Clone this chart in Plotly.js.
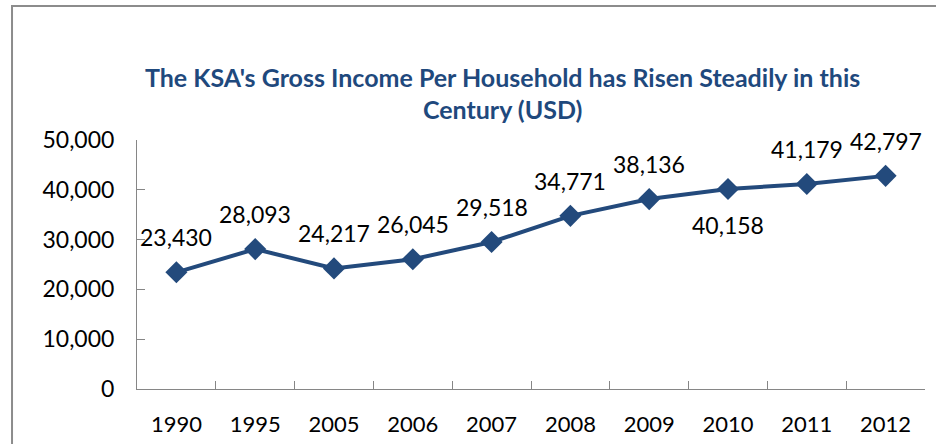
<!DOCTYPE html>
<html>
<head>
<meta charset="utf-8">
<script src="https://cdn.plot.ly/plotly-3.0.1.min.js"></script>
<style>
html,body{margin:0;padding:0;background:#fff;}
#chart{width:936px;height:444px;}
</style>
</head>
<body>
<div id="chart"></div>
<script>
var years = ["1990","1995","2005","2006","2007","2008","2009","2010","2011","2012"];
var income = [23430, 28093, 24217, 26045, 29518, 34771, 38136, 40158, 41179, 42797];
var labelBelow = [false,false,false,false,false,false,false,true,false,false];
var yTicks = [0, 10000, 20000, 30000, 40000, 50000];
var yTickText = ["0","10,000","20,000","30,000","40,000","50,000"];

var lineColor = "#234A7C";
var fontFam = "Lato, 'Open Sans', sans-serif";

function fmt(v){ return v.toString().replace(/\B(?=(\d{3})+(?!\d))/g, ","); }

var annotations = years.map(function(y, i){
  return {
    x: i, y: income[i], xref: "x", yref: "y",
    text: fmt(income[i]), showarrow: false,
    xanchor: "center", yanchor: "middle",
    yshift: labelBelow[i] ? -36 : 35,
    font: {family: fontFam, size: 23, color: "#000"}
  };
});

var trace = {
  type: "scatter", mode: "lines+markers",
  x: years, y: income,
  line: {color: lineColor, width: 4},
  marker: {symbol: "diamond", size: 17, color: lineColor},
  hoverinfo: "skip", cliponaxis: false
};

var layout = {
  width: 936, height: 444,
  margin: {l: 137, r: 11, t: 140, b: 55},
  paper_bgcolor: "#fff", plot_bgcolor: "#fff",
  showlegend: false,
  title: {
    text: "The KSA's Gross Income Per Household has Risen Steadily in this<br>Century (USD)",
    font: {family: fontFam, size: 25, color: "#1F497D", weight: "bold"},
    xref: "container", x: 0.537, xanchor: "center",
    yref: "container", y: 0.805, yanchor: "middle"
  },
  xaxis: {
    type: "category", range: [-0.5, 9.5],
    showline: true, linecolor: "#868686", linewidth: 1,
    ticks: "inside", tickson: "boundaries", ticklen: 8, tickcolor: "#868686",
    showgrid: false, zeroline: false,
    tickfont: {family: fontFam, size: 22, color: "#000"},
    ticklabelstandoff: 16, fixedrange: true
  },
  yaxis: {
    range: [0, 50000], tickvals: yTicks, ticktext: yTickText,
    showline: true, linecolor: "#868686", linewidth: 1,
    ticks: "inside", ticklen: 8, tickcolor: "#868686",
    showgrid: false, zeroline: false,
    tickfont: {family: fontFam, size: 23, color: "#000"},
    ticklabelstandoff: 17, fixedrange: true
  },
  annotations: annotations,
  shapes: [
    {type: "line", xref: "paper", yref: "paper", x0: -0.1586, x1: -0.1586, y0: 1.542, y1: -0.23,
     line: {color: "#8C8C8C", width: 2}},
    {type: "line", xref: "paper", yref: "paper", x0: -0.1598, x1: 1.02, y0: 1.538, y1: 1.538,
     line: {color: "#8C8C8C", width: 2}}
  ]
};

Plotly.newPlot("chart", [trace], layout, {displayModeBar: false, staticPlot: true});
</script>
</body>
</html>
